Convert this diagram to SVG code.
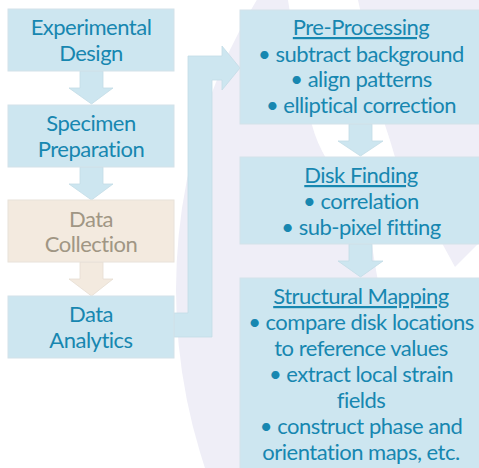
<svg xmlns="http://www.w3.org/2000/svg" width="479" height="468" viewBox="0 0 479 468">
  <style>
    .box { fill: #CDE6F0; stroke: #D3E2E9; stroke-width: 1; }
    .box-tan { fill: #F3EADF; stroke: #E8E2DA; stroke-width: 1; }
    .flow { fill: #CDE6F0; stroke: #C3DCE6; stroke-width: 0.8; }
    .flow-tan { fill: #F3EADF; stroke: #E6DDD2; stroke-width: 0.8; }
    text { font-family: Lato, "Open Sans", "Liberation Sans", sans-serif; font-size: 22px; letter-spacing: -0.5px; text-anchor: middle; fill: #1787B0; }
    text.muted { fill: #A09684; }
    .ul { text-decoration: underline; }
  </style>

  <!-- backdrop: pale disc with white wedge cut through it -->
  <g id="backdrop">
    <rect x="0" y="0" width="479" height="468" fill="#FFFFFF"/>
    <circle cx="737" cy="290" r="561" fill="#EFEEF7"/>
    <path d="M288,0 L358,0 C368,45 378,95 385,125 C390,140 393,150 395,157 C410,185 428,215 443,245 L455,267 L479,243 L479,320 L386,320 C382,300 378,285 372,245 C355,215 340,185 327,160 C320,148 315,137 312,125 C302,85 294,40 288,0 Z" fill="#FFFFFF"/>
  </g>

  <!-- connectors -->
  <g id="connectors">
    <polygon class="flow" points="80,71 103,71 103,88 113,88 91.5,104 69,88 80,88"/>
    <polygon class="flow" points="80,167 103,167 103,184 113,184 91.5,200 69,184 80,184"/>
    <polygon class="flow-tan" points="80,262 103,262 103,279 113,279 91.5,296 69,279 80,279"/>
    <polygon class="flow" points="174,313 188,313 188,56 222,56 222,46 240,68 222,90 222,80 212,80 212,337 174,337"/>
    <polygon class="flow" points="349,124 372,124 372,141 383,141 360.5,156 338,141 349,141"/>
    <polygon class="flow" points="349,244 372,244 372,261 383,261 360.5,277 338,261 349,261"/>
  </g>

  <!-- left column -->
  <g id="experimental-design">
    <rect class="box" x="8" y="9" width="166" height="62"/>
    <text x="91" y="35">Experimental</text>
    <text x="91" y="61">Design</text>
  </g>
  <g id="specimen-preparation">
    <rect class="box" x="8" y="105" width="166" height="62"/>
    <text x="91" y="131">Specimen</text>
    <text x="91" y="157">Preparation</text>
  </g>
  <g id="data-collection">
    <rect class="box-tan" x="8" y="200" width="166" height="62"/>
    <text class="muted" x="91" y="227">Data</text>
    <text class="muted" x="91" y="252">Collection</text>
  </g>
  <g id="data-analytics">
    <rect class="box" x="8" y="296" width="166" height="62"/>
    <text x="91" y="322">Data</text>
    <text x="91" y="348">Analytics</text>
  </g>

  <!-- right column -->
  <g id="pre-processing">
    <rect class="box" x="240" y="10" width="245" height="114"/>
    <text x="361" y="35" class="ul">Pre-Processing</text>
    <text x="361" y="62">• subtract background</text>
    <text x="361" y="87">• align patterns</text>
    <text x="361" y="113">• elliptical correction</text>
  </g>
  <g id="disk-finding">
    <rect class="box" x="240" y="157" width="245" height="87"/>
    <text x="361" y="183" class="ul">Disk Finding</text>
    <text x="361" y="209">• correlation</text>
    <text x="361" y="235">• sub-pixel fitting</text>
  </g>
  <g id="structural-mapping">
    <rect class="box" x="240" y="278" width="245" height="200"/>
    <text x="361" y="304" class="ul">Structural Mapping</text>
    <text x="361" y="330">• compare disk locations</text>
    <text x="361" y="356">to reference values</text>
    <text x="361" y="382">• extract local strain</text>
    <text x="361" y="408">fields</text>
    <text x="361" y="434">• construct phase and</text>
    <text x="361" y="460">orientation maps, etc.</text>
  </g>
</svg>
